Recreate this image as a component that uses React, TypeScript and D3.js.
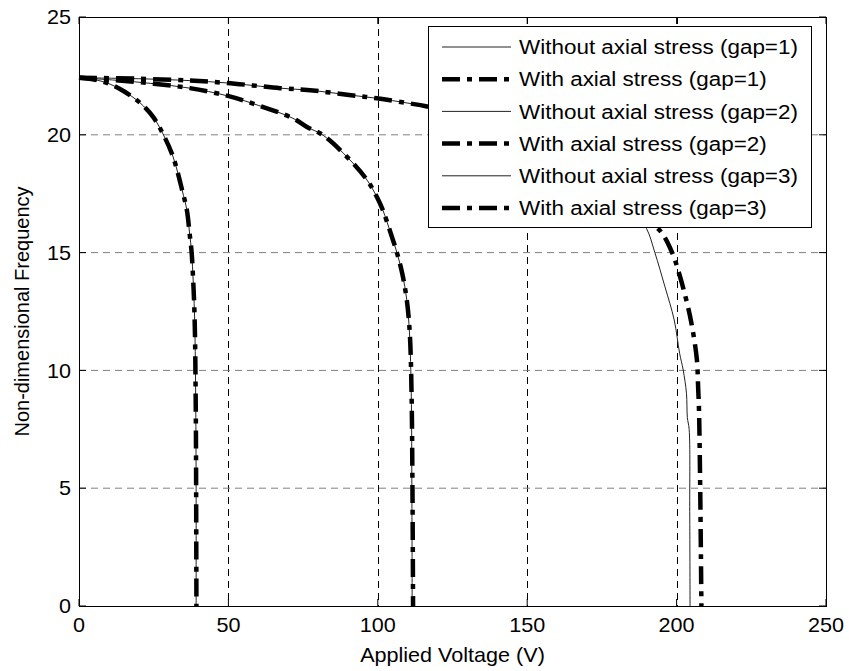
import React from 'react';
import * as d3 from 'd3';

const xTicks = [0, 50, 100, 150, 200, 250];
const yTicks = [0, 5, 10, 15, 20, 25];

const gap1Without: [number, number][] = [
  [0, 22.42], [5, 22.35], [10.4, 22.15], [15, 21.85], [20.4, 21.36], [24.8, 20.76], [28.1, 20.04],
  [31.5, 19.06], [34.5, 17.66], [36.1, 16.8], [37.0, 15.83], [37.7, 15.0], [38.2, 13.84],
  [38.5, 12.99], [38.8, 11.59], [39.1, 8], [39.2, 5], [39.2, 0],
];
const gap1With: [number, number][] = [
  [0, 22.42], [5, 22.35], [10.4, 22.15], [15, 21.85], [20.4, 21.36], [24.8, 20.76], [28.1, 20.04],
  [31.5, 19.06], [34.5, 17.66], [36.1, 16.8], [37.0, 15.83], [37.7, 15.0], [38.2, 13.84],
  [38.5, 12.99], [38.8, 11.59], [39.1, 8], [39.2, 5], [39.3, 0],
];
const gap2Without: [number, number][] = [
  [0, 22.42], [12, 22.32], [25, 22.17], [37.1, 21.98], [49.5, 21.66], [60, 21.25], [71.6, 20.7],
  [76.3, 20.33], [81.7, 19.98], [90.7, 18.93], [96.4, 18.08], [99.7, 17.36], [101.7, 16.8],
  [104.3, 15.83], [106.4, 15.0], [108.2, 14.1], [109.7, 12.99], [110.6, 11.59], [111.2, 9],
  [111.4, 5], [111.5, 0],
];
const gap2With: [number, number][] = [
  [0, 22.42], [12, 22.32], [25, 22.17], [37.1, 21.98], [49.5, 21.66], [60, 21.25], [71.6, 20.7],
  [76.3, 20.33], [81.7, 19.98], [90.7, 18.93], [96.4, 18.08], [99.7, 17.36], [101.7, 16.8],
  [104.3, 15.83], [106.4, 15.0], [108.2, 14.1], [109.7, 12.99], [110.7, 11.59], [111.3, 9],
  [111.6, 5], [111.8, 0],
];
const gap3Without: [number, number][] = [
  [0, 22.42], [20, 22.38], [37.1, 22.3], [49.5, 22.2], [67.3, 21.98], [78.3, 21.88],
  [89.7, 21.7], [99.7, 21.55], [109.8, 21.35], [116.5, 21.2], [133, 20.6], [150, 20.0],
  [166, 18.9], [178.5, 17.9], [184.5, 16.94], [189.9, 16.03], [192.7, 15.01], [196.1, 13.55],
  [199.2, 12.14], [201.0, 10.73], [202.2, 10.02], [203.3, 9.03], [203.6, 8.0], [204.2, 7.5],
  [204.4, 4], [204.5, 0],
];
const gap3With: [number, number][] = [
  [0, 22.42], [20, 22.38], [37.1, 22.3], [49.5, 22.2], [67.3, 21.98], [78.3, 21.88],
  [89.7, 21.7], [99.7, 21.55], [109.8, 21.35], [116.5, 21.2], [133, 20.65], [150, 20.05],
  [166, 19.0], [178.5, 18.1], [186, 17.1], [191.5, 16.3], [195.1, 15.83], [198.5, 15.0],
  [200.5, 14.26], [203.5, 12.86], [205.2, 11.84], [206.8, 10.44], [207.2, 9.3], [207.5, 8.3],
  [207.9, 5], [208.3, 0],
];

const legendLabels = [
  'Without axial stress (gap=1)',
  'With axial stress (gap=1)',
  'Without axial stress (gap=2)',
  'With axial stress (gap=2)',
  'Without axial stress (gap=3)',
  'With axial stress (gap=3)',
];

const seriesData = [gap1Without, gap1With, gap2Without, gap2With, gap3Without, gap3With];

const W = 849;
const H = 671;
const left = 79;
const right = 826;
const top = 17;
const bottom = 606;
const FONT = "'Liberation Sans', Arial, sans-serif";
const DASH = '18,7,5,7';
const SX = 1.08;

export default function App() {
  const x = d3.scaleLinear().domain([0, 250]).range([left, right]);
  const y = d3.scaleLinear().domain([0, 25]).range([bottom, top]);
  const line = d3
    .line<[number, number]>()
    .x((d) => x(d[0]))
    .y((d) => y(d[1]))
    .curve(d3.curveCatmullRom.alpha(0.5));

  const isWith = (i: number) => i % 2 === 1;
  const tickLen = 7;

  const legX = 428;
  const legY = 26;
  const legW = 383;
  const legH = 201;
  const rowY = (i: number) => 47 + i * 32.2;

  return (
    <svg width={W} height={H} style={{ position: 'absolute', left: 0, top: 0, background: '#fff' }}>
      <rect x={0} y={0} width={W} height={H} fill="#fff" />
      {xTicks.filter((t) => t > 0 && t < 250).map((t) => (
        <line key={'gx' + t} x1={Math.round(x(t)) + 0.5} x2={Math.round(x(t)) + 0.5} y1={top} y2={bottom}
          stroke="#000" strokeWidth={1} strokeDasharray="7,5" />
      ))}
      {yTicks.filter((t) => t > 0 && t < 25).map((t) => (
        <line key={'gy' + t} y1={y(t)} y2={y(t)} x1={left} x2={right}
          stroke="#808080" strokeWidth={1} strokeDasharray="7,5" />
      ))}
      {seriesData.map((d, i) => (
        <path key={'s' + i} d={line(d) || ''} fill="none" stroke={isWith(i) ? '#000' : '#222'}
          strokeWidth={isWith(i) ? 4.5 : 1} strokeDasharray={isWith(i) ? DASH : undefined} />
      ))}
      <rect x={left + 0.5} y={top + 0.5} width={right - left} height={bottom - top} fill="none" stroke="#000" strokeWidth={1} />
      {xTicks.map((t) => (
        <g key={'tx' + t}>
          <line x1={x(t)} x2={x(t)} y1={bottom} y2={bottom - tickLen} stroke="#000" />
          <line x1={x(t)} x2={x(t)} y1={top} y2={top + tickLen} stroke="#000" />
          <text transform={`translate(${x(t)},625) scale(${SX},1)`} textAnchor="middle" dominantBaseline="central" fontFamily={FONT} fontSize={20} fill="#000">{t}</text>
        </g>
      ))}
      {yTicks.map((t) => (
        <g key={'ty' + t}>
          <line x1={left} x2={left + tickLen} y1={y(t)} y2={y(t)} stroke="#000" />
          <line x1={right} x2={right - tickLen} y1={y(t)} y2={y(t)} stroke="#000" />
          <text transform={`translate(71,${y(t)}) scale(${SX},1)`} textAnchor="end" dominantBaseline="central" fontFamily={FONT} fontSize={20} fill="#000">{t}</text>
        </g>
      ))}
      <text transform={`translate(${(left + right) / 2},655) scale(${SX},1)`} textAnchor="middle" dominantBaseline="central" fontFamily={FONT} fontSize={20} fill="#000">Applied Voltage (V)</text>
      <text transform={`translate(22, ${(top + bottom) / 2}) rotate(-90)`} textAnchor="middle" dominantBaseline="central" fontFamily={FONT} fontSize={20} fill="#000">Non-dimensional Frequency</text>
      <rect x={legX + 0.5} y={legY + 0.5} width={legW} height={legH} fill="#fff" stroke="#000" strokeWidth={1} />
      {legendLabels.map((lab, i) => (
        <g key={'l' + i}>
          <line x1={442} x2={511} y1={rowY(i)} y2={rowY(i)} stroke={isWith(i) ? '#000' : '#222'}
            strokeWidth={isWith(i) ? 4.5 : 1} strokeDasharray={isWith(i) ? DASH : undefined} />
          <text transform={`translate(519,${rowY(i)}) scale(1.07,1)`} dominantBaseline="central" fontFamily={FONT} fontSize={21} fill="#000">{lab}</text>
        </g>
      ))}
    </svg>
  );
}
